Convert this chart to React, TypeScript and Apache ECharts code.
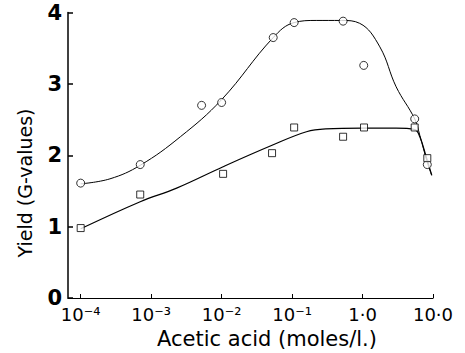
import React, { useEffect, useRef } from "react";
import * as echarts from "echarts";

// Measured points (acetic acid concentration in moles/l, yield G-values)
const circleX = [1e-4, 7e-4, 5.2e-3, 1.0e-2, 0.054, 0.107, 0.53, 1.04, 5.5, 8.3];
const circleY = [1.61, 1.87, 2.7, 2.74, 3.65, 3.86, 3.88, 3.26, 2.51, 1.87];
const squareX = [1e-4, 7e-4, 1.05e-2, 0.052, 0.107, 0.53, 1.05, 5.5, 8.3];
const squareY = [0.98, 1.45, 1.74, 2.03, 2.39, 2.26, 2.39, 2.39, 1.96];

// Fitted curves
const upperCurveX = [1e-4, 2.6e-4, 7e-4, 2.6e-3, 1e-2, 0.054, 0.107, 0.22, 0.5, 0.91, 1.76, 3.0, 5.5, 6.5, 8.3, 9.6];
const upperCurveY = [1.6, 1.67, 1.86, 2.26, 2.78, 3.65, 3.86, 3.89, 3.89, 3.85, 3.52, 2.96, 2.51, 2.28, 1.9, 1.72];
const lowerCurveX = [1e-4, 7e-4, 2.3e-3, 1.05e-2, 0.052, 0.16, 0.3, 1.0, 3.0, 5.5, 6.5, 8.0, 9.6];
const lowerCurveY = [0.97, 1.35, 1.54, 1.84, 2.14, 2.33, 2.37, 2.38, 2.38, 2.36, 2.26, 1.98, 1.72];

const xTickLabels: Record<string, string> = {
  "-4": "10⁻⁴",
  "-3": "10⁻³",
  "-2": "10⁻²",
  "-1": "10⁻¹",
  "0": "1·0",
  "1": "10·0",
};

const xTitle = "Acetic acid (moles/l.)";
const yTitle = "Yield (G-values)";

const FONT = "DejaVu Sans";

function zip(xs: number[], ys: number[]) {
  return xs.map((x, i) => [x, ys[i]]);
}

export default function App() {
  const ref = useRef<HTMLDivElement>(null);
  useEffect(() => {
    if (!ref.current) return;
    const chart = echarts.init(ref.current, undefined, { renderer: "svg" });
    chart.setOption({
      animation: false,
      backgroundColor: "#ffffff",
      grid: { left: 68, right: 32, top: 12.6, bottom: 55, containLabel: false },
      graphic: [
        {
          type: "text",
          x: 267,
          y: 339,
          style: {
            text: xTitle,
            fontFamily: FONT,
            fontSize: 21,
            fill: "#000",
            align: "center",
            verticalAlign: "middle",
          },
        },
        {
          type: "text",
          x: 25,
          y: 183,
          rotation: Math.PI / 2,
          style: {
            text: yTitle,
            fontFamily: FONT,
            fontSize: 19,
            fill: "#000",
            align: "center",
            verticalAlign: "middle",
          },
        },
      ],
      xAxis: {
        type: "log",
        logBase: 10,
        min: Math.pow(10, -4.18),
        max: 10,
        axisLine: { lineStyle: { color: "#000", width: 1.2 } },
        axisTick: { inside: true, length: 4, lineStyle: { color: "#000" } },
        splitLine: { show: false },
        minorTick: { show: false },
        axisLabel: {
          showMinLabel: false,
          fontFamily: FONT,
          fontSize: 18,
          color: "#000",
          margin: 7,
          formatter: (v: number) => {
            const k = String(Math.round(Math.log10(v)));
            return xTickLabels[k] ?? "";
          },
        },
      },
      yAxis: {
        type: "value",
        min: 0,
        max: 4,
        interval: 1,
        axisLine: { show: true, lineStyle: { color: "#000", width: 1.5 } },
        axisTick: { show: true, inside: true, length: 5, lineStyle: { color: "#000", width: 1.5 } },
        splitLine: { show: false },
        axisLabel: {
          fontFamily: FONT,
          fontSize: 21,
          fontWeight: "bold",
          color: "#000",
          margin: 6,
        },
      },
      series: [
        {
          type: "line",
          data: zip(upperCurveX, upperCurveY),
          smooth: 0.4,
          showSymbol: false,
          lineStyle: { color: "#000", width: 1 },
          z: 1,
        },
        {
          type: "line",
          data: zip(lowerCurveX, lowerCurveY),
          smooth: 0.4,
          showSymbol: false,
          lineStyle: { color: "#000", width: 1.2 },
          z: 1,
        },
        {
          type: "scatter",
          data: zip(circleX, circleY),
          symbol: "circle",
          symbolSize: 8,
          itemStyle: { color: "#fff", borderColor: "#000", borderWidth: 1 },
          z: 3,
        },
        {
          type: "scatter",
          data: zip(squareX, squareY),
          symbol: "rect",
          symbolSize: 7,
          itemStyle: { color: "#fff", borderColor: "#000", borderWidth: 1 },
          z: 3,
        },
      ],
    });
    return () => chart.dispose();
  }, []);
  return (
    <div
      ref={ref}
      style={{ position: "fixed", left: 0, top: 0, width: 465, height: 353, background: "#fff" }}
    />
  );
}
